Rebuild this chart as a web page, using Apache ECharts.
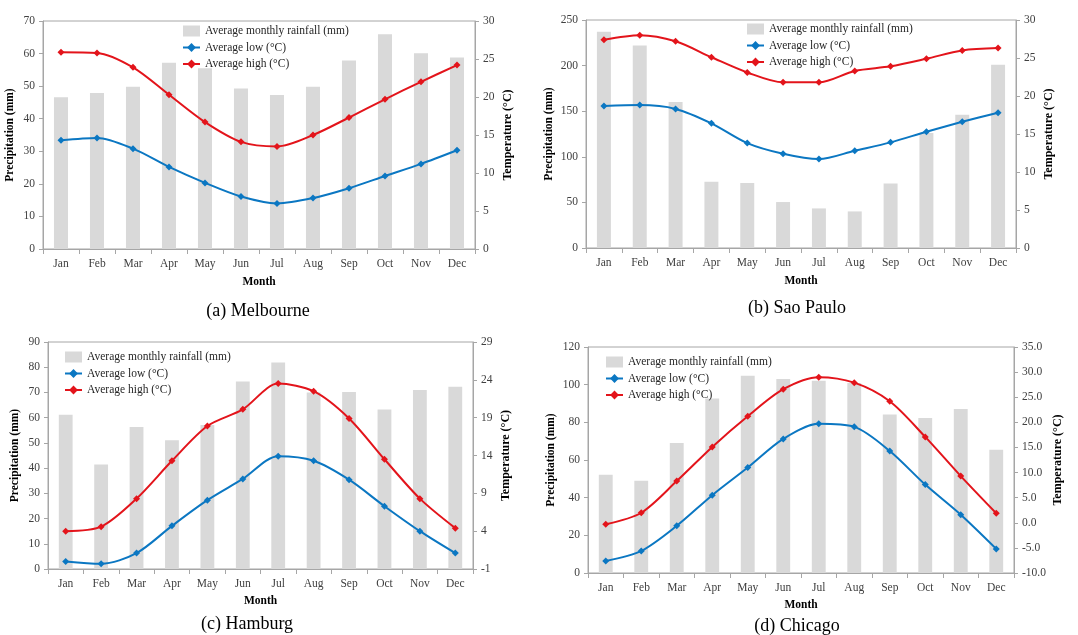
<!DOCTYPE html>
<html><head><meta charset="utf-8">
<script src="https://cdn.jsdelivr.net/npm/echarts@6/dist/echarts.min.js"></script>
<style>html,body{margin:0;padding:0;background:#fff}#c{width:1078px;height:635px}</style>
</head><body><div id="c"></div>
<script>
const months = ['Jan','Feb','Mar','Apr','May','Jun','Jul','Aug','Sep','Oct','Nov','Dec'];

const melRain = [46.6,47.9,49.8,57.2,55.5,49.3,47.3,49.8,57.9,65.9,60.1,58.8];
const melLow  = [14.3,14.6,13.2,10.8,8.7,6.9,6.0,6.7,8.0,9.6,11.2,13.0];
const melHigh = [25.9,25.8,23.9,20.3,16.7,14.1,13.5,15.0,17.3,19.7,22.0,24.2];

const spRain = [237,222,160,72.6,71.2,50.4,43.4,40.1,70.8,126,146,201];
const spLow  = [18.7,18.8,18.3,16.4,13.8,12.4,11.7,12.8,13.9,15.3,16.6,17.8];
const spHigh = [27.4,28.0,27.2,25.1,23.1,21.8,21.8,23.3,23.9,24.9,26.0,26.3];

const hamRain = [61.2,41.4,56.3,51.0,57.1,74.3,81.9,70.0,70.2,63.2,71.0,72.3];
const hamLow  = [0.0,-0.3,1.1,4.7,8.1,10.9,13.9,13.3,10.8,7.3,4.0,1.1];
const hamHigh = [4.0,4.6,8.3,13.3,17.9,20.1,23.5,22.5,18.9,13.5,8.3,4.4];

const chiRain = [52.2,49.0,69.0,92.6,104.8,103.0,102.1,100.9,84.1,82.3,87.1,65.5];
const chiLow  = [-7.6,-5.6,-0.6,5.5,11.0,16.7,19.7,19.1,14.3,7.6,1.6,-5.2];
const chiHigh = [-0.3,2.0,8.3,15.1,21.2,26.6,29.0,27.9,24.2,17.1,9.3,1.9];

const hamTempTicks = [-1,4,9,14,19,24,29];

const captions = ['(a) Melbourne','(b) Sao Paulo','(c) Hamburg','(d) Chicago'];

const FONT = 'Liberation Serif';
const axisGray = '#a6a6a6';
const labelCol = '#404040';
const BLUE = '#0b77c2', RED = '#e3141b', BAR = '#d9d9d9';
const N_RAIN = 'Average monthly rainfall (mm)', N_LOW = 'Average low (°C)', N_HIGH = 'Average high (°C)';

const panels = [
  {rain: melRain, low: melLow, high: melHigh, grid:{left:43, top:21, width:432, height:228},
   lmax:70, lint:10, rmin:0, rmax:30, rint:5, legend:{left:182, top:25}, cap:{x:258, y:302}, mgap:27},
  {rain: spRain, low: spLow, high: spHigh, grid:{left:586, top:20, width:430, height:228},
   lmax:250, lint:50, rmin:0, rmax:30, rint:5, legend:{left:746, top:23}, cap:{x:797, y:299}, mgap:27},
  {rain: hamRain, low: hamLow, high: hamHigh, grid:{left:48, top:342, width:425, height:227},
   lmax:90, lint:10, rmin:-1, rmax:29, rcustom: hamTempTicks, legend:{left:64, top:351}, cap:{x:247, y:615}, mgap:26},
  {rain: chiRain, low: chiLow, high: chiHigh, grid:{left:588, top:347, width:426, height:226},
   lmax:120, lint:20, rmin:-10, rmax:35, rint:5, rfix:1, legend:{left:605, top:356}, cap:{x:797, y:617}, mgap:26}
];

const grid = [], xAxis = [], yAxis = [], series = [], legend = [], graphic = [];
panels.forEach((p, i) => {
  grid.push(Object.assign({show:true, borderColor:axisGray, borderWidth:1, containLabel:false}, p.grid));
  xAxis.push({type:'category', gridIndex:i, data:months, boundaryGap:true,
    name:'Month', nameLocation:'middle', nameGap:p.mgap,
    nameTextStyle:{fontFamily:FONT, fontWeight:'bold', fontSize:11.5, color:'#000'},
    axisLine:{lineStyle:{color:axisGray}}, axisTick:{show:true, length:5, lineStyle:{color:axisGray}, alignWithLabel:false},
    axisLabel:{fontFamily:FONT, fontSize:11.5, color:labelCol, margin:9}, splitLine:{show:false}});
  yAxis.push({type:'value', gridIndex:i, min:0, max:p.lmax, interval:p.lint, position:'left',
    name:'Precipitation (mm)', nameLocation:'middle', nameGap:(p.lmax>=100?31:27), nameRotate:90,
    nameTextStyle:{fontFamily:FONT, fontWeight:'bold', fontSize:11.5, color:'#000'},
    axisLine:{show:true, lineStyle:{color:axisGray}}, axisTick:{show:true, length:4, lineStyle:{color:axisGray}},
    axisLabel:{fontFamily:FONT, fontSize:11.5, color:labelCol, margin:8}, splitLine:{show:false}});
  const r = {type:'value', gridIndex:i, min:p.rmin, max:p.rmax, position:'right',
    name:'Temperature (°C)', nameLocation:'middle', nameGap:(p.rfix?38:27), nameRotate:90,
    nameTextStyle:{fontFamily:FONT, fontWeight:'bold', fontSize:12, color:'#000'},
    axisLine:{show:true, lineStyle:{color:axisGray}}, axisTick:{show:true, length:4, lineStyle:{color:axisGray}},
    axisLabel:{fontFamily:FONT, fontSize:11.5, color:labelCol, margin:8}, splitLine:{show:false}};
  if (p.rcustom) {
    r.axisLabel.customValues = p.rcustom;
    r.axisTick.customValues = p.rcustom;
  } else {
    r.interval = p.rint;
  }
  if (p.rfix) r.axisLabel.formatter = v => v.toFixed(1);
  yAxis.push(r);
  const ly = i*2, ry = i*2+1;
  series.push({type:'bar', name:N_RAIN, xAxisIndex:i, yAxisIndex:ly, data:p.rain, barWidth:'39%',
    itemStyle:{color:BAR}, z:1, silent:true});
  series.push({type:'line', name:N_LOW, xAxisIndex:i, yAxisIndex:ry, data:p.low, smooth:0.3,
    symbol:'diamond', symbolSize:7, lineStyle:{color:BLUE, width:2}, itemStyle:{color:BLUE}, z:3});
  series.push({type:'line', name:N_HIGH, xAxisIndex:i, yAxisIndex:ry, data:p.high, smooth:0.3,
    symbol:'diamond', symbolSize:7, lineStyle:{color:RED, width:2}, itemStyle:{color:RED}, z:3});
  legend.push({orient:'vertical', left:p.legend.left, top:p.legend.top, padding:0, itemGap:4.5, itemWidth:17, itemHeight:11,
    data:[{name:N_RAIN, icon:'rect', itemStyle:{color:BAR}}, N_LOW, N_HIGH],
    textStyle:{fontFamily:FONT, fontSize:11.5, color:'#262626'}, selectedMode:false});
  graphic.push({type:'text', x:p.cap.x, y:p.cap.y, style:{text:captions[i], font:'18px "Liberation Serif"', fill:'#000', textAlign:'center'}});
});

const chart = echarts.init(document.getElementById('c'), null, {renderer:'canvas'});
chart.setOption({animation:false, backgroundColor:'#fff', grid, xAxis, yAxis, series, legend, graphic});
</script></body></html>
